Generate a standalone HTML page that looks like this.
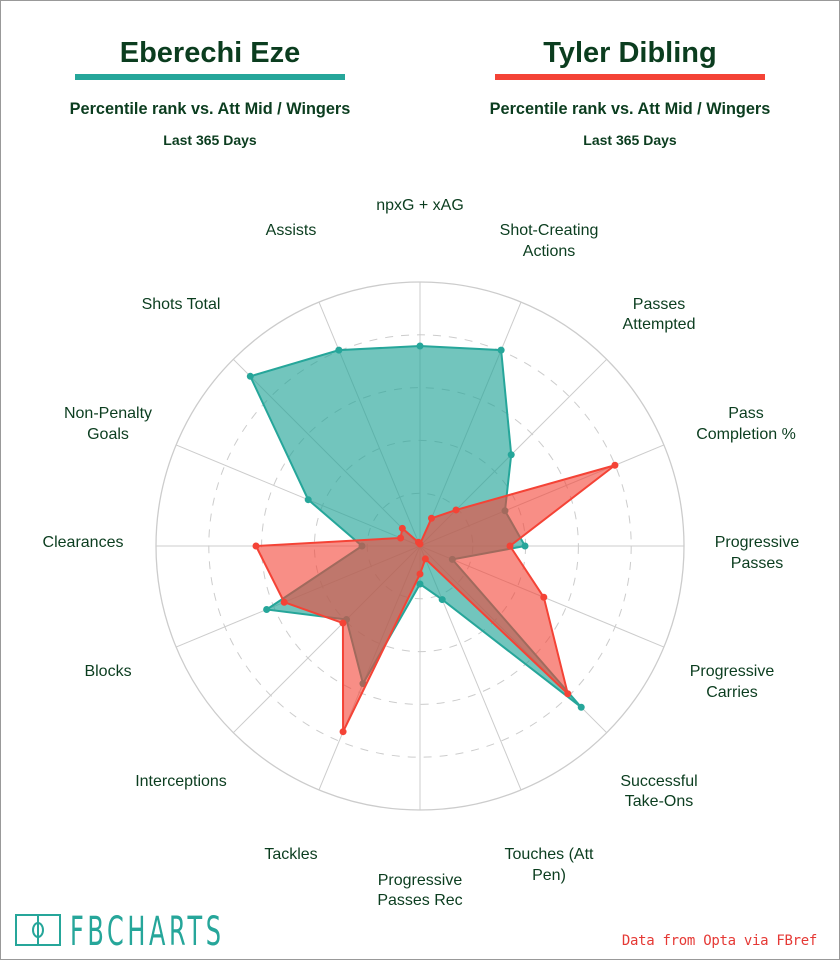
<!DOCTYPE html>
<html><head><meta charset="utf-8"><style>
html,body{margin:0;padding:0;background:#fff}
body{width:840px;height:960px;position:relative;overflow:hidden;font-family:"Liberation Sans",sans-serif}
.frame{position:absolute;left:0;top:0;width:838px;height:958px;border:1px solid #999}
</style></head><body><div class="frame"></div>
<svg id="s" width="840" height="960" style="position:absolute;left:0;top:0" font-family="Liberation Sans, sans-serif">
<text x="210" y="62" text-anchor="middle" font-size="29" font-weight="bold" fill="#0b3d1f">Eberechi Eze</text>
<rect x="75" y="74" width="270" height="6" fill="#26a69a"/>
<text x="210" y="114" text-anchor="middle" font-size="16.3" font-weight="bold" fill="#0b3d1f">Percentile rank vs. Att Mid / Wingers</text>
<text x="210" y="145" text-anchor="middle" font-size="14" font-weight="bold" fill="#0b3d1f">Last 365 Days</text>
<text x="630" y="62" text-anchor="middle" font-size="29" font-weight="bold" fill="#0b3d1f">Tyler Dibling</text>
<rect x="495" y="74" width="270" height="6" fill="#f44336"/>
<text x="630" y="114" text-anchor="middle" font-size="16.3" font-weight="bold" fill="#0b3d1f">Percentile rank vs. Att Mid / Wingers</text>
<text x="630" y="145" text-anchor="middle" font-size="14" font-weight="bold" fill="#0b3d1f">Last 365 Days</text>
<g id="g"></g>
<g font-size="16" fill="#0b3d1f" text-anchor="middle">
<text x="420" y="210">npxG + xAG</text>
<text x="549" y="235">Shot-Creating</text><text x="549" y="256">Actions</text>
<text x="659" y="309">Passes</text><text x="659" y="329">Attempted</text>
<text x="746" y="418">Pass</text><text x="746" y="439">Completion %</text>
<text x="757" y="547">Progressive</text><text x="757" y="568">Passes</text>
<text x="732" y="676">Progressive</text><text x="732" y="697">Carries</text>
<text x="659" y="786">Successful</text><text x="659" y="806">Take-Ons</text>
<text x="549" y="859">Touches (Att</text><text x="549" y="880">Pen)</text>
<text x="420" y="885">Progressive</text><text x="420" y="905">Passes Rec</text>
<text x="291" y="859">Tackles</text>
<text x="181" y="786">Interceptions</text>
<text x="108" y="676">Blocks</text>
<text x="83" y="547">Clearances</text>
<text x="108" y="418">Non-Penalty</text><text x="108" y="439">Goals</text>
<text x="181" y="309">Shots Total</text>
<text x="291" y="235">Assists</text>
</g>
<g stroke="#26a69a" stroke-width="2" fill="none">
<rect x="16" y="915" width="44" height="30"/><line x1="38" y1="915" x2="38" y2="945"/><ellipse cx="38" cy="930" rx="5" ry="7"/>
</g>
<text x="70" y="945" font-size="40" fill="#26a69a" font-family="DejaVu Sans, sans-serif" transform="translate(70 0) scale(0.6 1) translate(-70 0)" letter-spacing="6">FBCHARTS</text>
<text x="817" y="945" text-anchor="end" font-size="14" fill="#e53935" font-family="DejaVu Sans Mono, monospace" letter-spacing="-0.3">Data from Opta via FBref</text>
</svg>
<script>
var cx=420,cy=546,R=264,g=document.getElementById('g'),h='';
for(var i=1;i<=4;i++)h+='<circle cx="'+cx+'" cy="'+cy+'" r="'+(R*i/5)+'" fill="none" stroke="#ccc" stroke-dasharray="8,8"/>';
h+='<circle cx="'+cx+'" cy="'+cy+'" r="'+R+'" fill="none" stroke="#ccc" stroke-width="1.3"/>';
function p(k,r){var a=k*Math.PI/8;return [cx+r*Math.sin(a),cy-r*Math.cos(a)];}
for(var k=0;k<16;k++){var q=p(k,R);h+='<line x1="'+cx+'" y1="'+cy+'" x2="'+q[0]+'" y2="'+q[1]+'" stroke="#ccc"/>';}
var A=[200,212,129,92,105,35,228,58,38,149,104,166,58,121,240,212];
var B=[2,30,51,211,90,134,209,14,28,201,109,147,164,21,25,4];
function poly(d,c,fo){var s=d.map(function(r,k){return p(k,r).join(',')}).join(' ');
var o='<polygon points="'+s+'" fill="'+c+'" fill-opacity="'+fo+'" stroke="'+c+'" stroke-width="2"/>';
d.forEach(function(r,k){var q=p(k,r);o+='<circle cx="'+q[0]+'" cy="'+q[1]+'" r="3.5" fill="'+c+'"/>'});return o;}
h+=poly(A,'#26a69a',0.65);h+=poly(B,'#f44336',0.6);
g.innerHTML=h;
</script>
</body></html>
